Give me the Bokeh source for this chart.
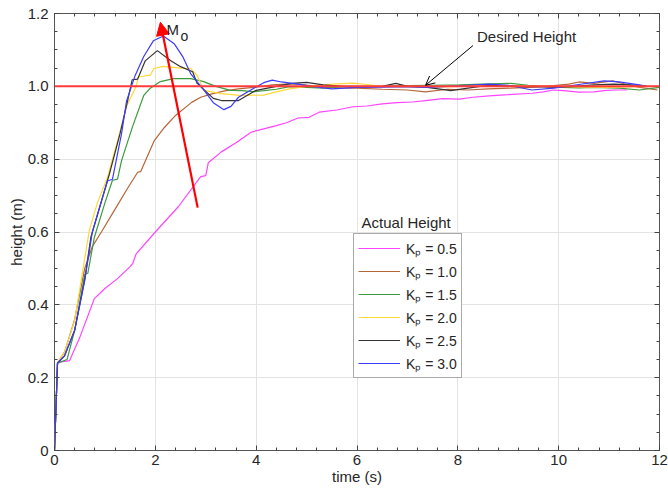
from bokeh.plotting import figure
from bokeh.models import (Range1d, FixedTicker, CustomJSTickFormatter, LinearAxis, Legend, LegendItem,
                          Span, Arrow, NormalHead, OpenHead, Label)
from bokeh.embed import file_html
from bokeh.resources import INLINE

# ---------------- data ----------------
t_kp05 = [0, 0.06, 0.3, 0.5, 0.79, 1.0, 1.25, 1.5, 1.55, 1.62, 2.0, 2.46, 2.9, 3.0, 3.05, 3.31, 3.6, 3.9,
          4.15, 4.4, 4.6, 4.83, 5.05, 5.25, 5.6, 5.92, 6.2, 6.5, 6.8, 7.1, 7.36, 7.7, 8.03, 8.3, 8.62, 9.0, 9.47,
          9.7, 9.89, 10.1, 10.4, 10.7, 10.9, 11.1, 11.35]
y_kp05 = [0, 0.242, 0.247, 0.31, 0.417, 0.445, 0.472, 0.505, 0.513, 0.54, 0.60, 0.67, 0.752, 0.755, 0.79, 0.82,
          0.845, 0.874, 0.883, 0.892, 0.9, 0.913, 0.915, 0.929, 0.935, 0.944, 0.946, 0.952, 0.955, 0.957, 0.961,
          0.966, 0.965, 0.97, 0.974, 0.977, 0.981, 0.985, 0.99, 0.988, 0.984, 0.985, 0.988, 0.99, 0.99]

t_kp10 = [0, 0.06, 0.2, 0.4, 0.6, 0.75, 0.93, 1.19, 1.45, 1.65, 1.71, 1.98, 2.18, 2.4, 2.72, 2.9,
          3.14, 3.4, 3.65, 4.0, 4.32, 4.6, 4.83, 5.2, 5.6, 6.0, 6.5, 7.0, 7.36, 7.8, 8.2, 8.6, 9.05, 9.5, 9.9,
          10.2, 10.4, 10.7, 11.07, 11.3, 11.58, 11.96]
y_kp10 = [0, 0.24, 0.27, 0.36, 0.5, 0.56, 0.6, 0.66, 0.72, 0.764, 0.766, 0.851, 0.887, 0.92, 0.956, 0.97,
          0.98, 0.988, 0.993, 0.998, 1.004, 1.006, 1.006, 1.0, 0.996, 0.995, 0.992, 0.99,
          0.985, 0.992, 0.99, 0.993, 0.995, 0.998, 1.002, 1.006, 1.012, 1.008, 1.015, 1.007, 0.998, 0.99]

t_kp15 = [0, 0.06, 0.25, 0.4, 0.6, 0.66, 0.79, 1.0, 1.15, 1.25, 1.33, 1.55, 1.77, 1.9, 2.1, 2.36, 2.7, 2.96,
          3.2, 3.49, 3.73, 3.95, 4.15, 4.4, 4.66, 5.0, 5.33, 5.8, 6.5, 7.0,
          7.5, 8.03, 8.5, 9.05, 9.4, 9.9, 10.4, 10.7, 11.2, 11.6, 12.0]
y_kp15 = [0, 0.24, 0.25, 0.33, 0.484, 0.486, 0.585, 0.68, 0.742, 0.745, 0.796, 0.89, 0.975, 0.995, 1.013, 1.021,
          1.021, 1.013, 1.0, 0.989, 0.988, 0.985, 0.988, 0.992, 0.999, 0.997, 0.995, 1.0, 1.0, 1.002, 1.003,
          1.004, 1.006, 1.008, 1.003, 0.998, 0.996, 0.997, 0.995, 0.99, 0.997]

t_kp20 = [0, 0.06, 0.2, 0.4, 0.69, 0.85, 1.05, 1.25, 1.43, 1.55, 1.62, 1.66, 1.84, 1.9, 1.97, 2.16, 2.5, 2.7,
          2.83, 2.96, 3.3, 3.69, 4.15, 4.4, 4.66, 5.0, 5.33, 5.6, 5.92, 6.2, 6.5, 7.0, 7.5, 8.0, 8.5,
          9.0, 9.5, 10.0, 10.5, 11.0, 11.5, 12.0]
y_kp20 = [0, 0.24, 0.27, 0.357, 0.604, 0.68, 0.75, 0.85, 0.945, 0.98, 1.0, 1.025, 1.03, 1.03, 1.049, 1.055,
          1.05, 1.049, 1.03, 0.989, 0.98, 0.975, 0.976, 0.985, 0.993, 1.0, 1.004, 1.007, 1.009, 1.005,
          0.999, 1.0, 0.998, 1.0, 1.003, 1.002, 1.0, 1.0, 0.998, 0.997, 0.999, 1.0]

t_kp25 = [0, 0.06, 0.2, 0.4, 0.6, 0.72, 0.9, 1.09, 1.3, 1.45, 1.54, 1.65, 1.8, 2.04, 2.3, 2.5, 2.74, 2.83,
          3.15, 3.31, 3.65, 3.98, 4.4, 4.7, 5.0, 5.33, 5.92, 6.5, 6.77, 7.0, 7.36, 7.86, 8.2, 8.62, 9.2,
          9.9, 10.3, 10.7, 11.1, 11.6, 11.75]
y_kp25 = [0, 0.24, 0.26, 0.33, 0.47, 0.585, 0.67, 0.76, 0.87, 0.96, 1.018, 1.02, 1.07, 1.098, 1.071, 1.054,
          1.04, 1.008, 0.967, 0.961, 0.961, 0.988, 1.0, 1.008, 1.011, 1.004, 0.998, 1.0, 1.008, 1.0, 0.998,
          0.988, 0.995, 1.003, 1.0, 0.998, 1.0, 1.004, 1.006, 1.003, 1.0]

t_kp30 = [0, 0.06, 0.2, 0.4, 0.6, 0.75, 0.9, 1.05, 1.15, 1.33, 1.43, 1.6, 1.77, 1.96, 2.16, 2.38, 2.55, 2.7,
          2.96, 3.15, 3.36, 3.5, 3.65, 3.98, 4.15, 4.32, 4.5, 4.83, 5.1, 5.5, 6.0, 6.5, 7.0, 7.36, 7.8,
          8.2, 8.62, 9.0, 9.47, 9.9, 10.4, 10.9, 11.2, 11.6, 11.75]
y_kp30 = [0, 0.24, 0.26, 0.33, 0.467, 0.6, 0.67, 0.74, 0.745, 0.87, 0.96, 1.03, 1.082, 1.125, 1.138, 1.116,
          1.08, 1.035, 0.99, 0.955, 0.936, 0.945, 0.97, 0.997, 1.01, 1.017, 1.012, 1.006, 1.0, 0.993,
          0.997, 0.998, 0.999, 0.997, 1.0, 1.003, 1.006, 1.003, 0.99, 0.995, 1.005, 1.015, 1.012, 1.004, 1.0]

series_names = ["Kₚ = 0.5", "Kₚ = 1.0", "Kₚ = 1.5", "Kₚ = 2.0", "Kₚ = 2.5", "Kₚ = 3.0"]
series_colors = ["#ff44ff", "#b5653a", "#3c9b3c", "#ffd83a", "#333333", "#3b3bff"]
series_t = [t_kp05, t_kp10, t_kp15, t_kp20, t_kp25, t_kp30]
series_y = [y_kp05, y_kp10, y_kp15, y_kp20, y_kp25, y_kp30]

desired_height = 1.0
x_ticks = [0, 2, 4, 6, 8, 10, 12]
x_minor = [i * 0.4 for i in range(31)]
y_ticks = [0, 0.2, 0.4, 0.6, 0.8, 1.0, 1.2]
y_minor = [i * 0.05 for i in range(25)]

FONT = "Liberation Sans"
TXT = "#262626"

p = figure(width=668, height=490, output_backend="svg", toolbar_location=None,
           x_range=Range1d(0, 12), y_range=Range1d(0, 1.2),
           min_border_left=54, min_border_right=9, min_border_top=13, min_border_bottom=40)
p.background_fill_color = "white"
p.border_fill_color = "white"
p.outline_line_color = "#555555"
p.outline_line_width = 1

p.xaxis.ticker = FixedTicker(ticks=x_ticks, minor_ticks=x_minor)
p.yaxis.ticker = FixedTicker(ticks=y_ticks, minor_ticks=y_minor)
p.yaxis.formatter = CustomJSTickFormatter(code="return tick == 0 ? '0' : tick.toFixed(1);")
p.xaxis.axis_label = "time (s)"
p.yaxis.axis_label = "height (m)"

for ax in [p.xaxis[0], p.yaxis[0]]:
    ax.axis_line_color = None
    ax.major_tick_in = 5
    ax.major_tick_out = 0
    ax.minor_tick_in = 3
    ax.minor_tick_out = 0
    ax.major_tick_line_color = "#444444"
    ax.minor_tick_line_color = "#444444"
    ax.major_label_text_font = FONT
    ax.major_label_text_font_size = "15px"
    ax.major_label_text_color = TXT
    ax.axis_label_text_font = FONT
    ax.axis_label_text_font_size = "15px"
    ax.axis_label_text_font_style = "normal"
    ax.axis_label_text_color = TXT
    ax.axis_label_standoff = 0
p.xaxis.major_label_standoff = 4
p.yaxis.major_label_standoff = 6

for loc, tk, mn in [("right", y_ticks, y_minor), ("above", x_ticks, x_minor)]:
    a = LinearAxis(ticker=FixedTicker(ticks=tk, minor_ticks=mn),
                   formatter=CustomJSTickFormatter(code="return '';"))
    a.axis_line_color = None
    a.major_tick_in = 5
    a.major_tick_out = 0
    a.minor_tick_in = 3
    a.minor_tick_out = 0
    a.major_tick_line_color = "#444444"
    a.minor_tick_line_color = "#444444"
    a.major_label_standoff = 0
    p.add_layout(a, loc)

p.xgrid.ticker = FixedTicker(ticks=x_ticks)
p.ygrid.ticker = FixedTicker(ticks=y_ticks)
p.grid.grid_line_color = "#e3e3e3"
p.grid.grid_line_width = 1

items = []
for name, col, tt, yy in zip(series_names, series_colors, series_t, series_y):
    r = p.line(tt, yy, line_color=col, line_width=1.2)
    items.append(LegendItem(label=name, renderers=[r]))

p.add_layout(Span(location=desired_height, dimension="width", line_color="#ff3b3b", line_width=2))

legend = Legend(items=items, location=(299, 72), orientation="vertical",
                label_text_font=FONT, label_text_font_size="14px", label_text_color=TXT,
                glyph_width=42, glyph_height=20, label_height=20, spacing=3, padding=4, margin=0,
                label_standoff=6, border_line_color="#555555", border_line_width=1,
                background_fill_color="white", background_fill_alpha=1)
p.add_layout(legend, "center")

p.add_layout(Label(x=6.09, y=0.626, text="Actual Height", text_font=FONT, text_font_size="15px",
                   text_color=TXT, text_baseline="middle"))

p.add_layout(Arrow(end=NormalHead(size=13, fill_color="red", line_color="red"),
                   x_start=2.84, y_start=0.667, x_end=2.1, y_end=1.176,
                   line_color="red", line_width=2.2))
p.add_layout(Label(x=2.22, y=1.156, text="M", text_font=FONT, text_font_size="15px",
                   text_color=TXT, text_baseline="alphabetic"))
p.add_layout(Label(x=2.5, y=1.137, text="o", text_font=FONT, text_font_size="14px",
                   text_color=TXT, text_baseline="alphabetic"))

p.add_layout(Arrow(end=OpenHead(size=9, line_color="black", line_width=1),
                   x_start=8.30, y_start=1.112, x_end=7.36, y_end=1.003,
                   line_color="black", line_width=1))
p.add_layout(Label(x=8.38, y=1.138, text="Desired Height", text_font=FONT, text_font_size="15px",
                   text_color=TXT, text_baseline="middle"))

open("out.html", "w").write(file_html(p, INLINE))
